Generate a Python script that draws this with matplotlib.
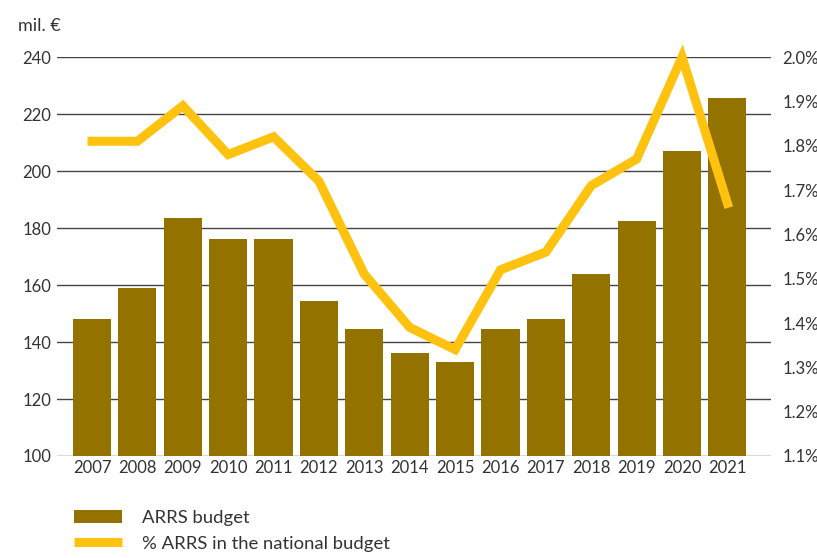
import matplotlib
matplotlib.use("Agg")
import matplotlib.pyplot as plt
from matplotlib.patches import Patch
from matplotlib.lines import Line2D

plt.rcParams['font.family'] = ['Lato', 'DejaVu Sans']

years = ["2007", "2008", "2009", "2010", "2011", "2012", "2013", "2014",
         "2015", "2016", "2017", "2018", "2019", "2020", "2021"]
budget = [148, 159, 183.5, 176, 176, 154.5, 144.5, 136, 133, 144.5, 148, 164, 182.5, 207, 225.5]
share = [1.81, 1.81, 1.89, 1.78, 1.82, 1.72, 1.51, 1.39, 1.34, 1.52, 1.56, 1.71, 1.77, 2.0, 1.67]

left_ticks = [100, 120, 140, 160, 180, 200, 220, 240]
right_ticks = [1.1, 1.2, 1.3, 1.4, 1.5, 1.6, 1.7, 1.8, 1.9, 2.0]

bar_color = "#937200"
line_color = "#FFC20E"
text_color = "#333333"
grid_color = "#444444"

fig = plt.figure(figsize=(8.17, 5.58), dpi=100)
ax = fig.add_axes([0.0698, 0.1828, 0.8739, 0.715])
x = list(range(len(years)))

ax.bar(x, budget, width=0.84, color=bar_color, zorder=3)
ax.set_ylim(100, 240)
ax.set_xlim(-0.77, 14.96)
ax.set_yticks(left_ticks)
ax.set_xticks(x)
ax.set_xticklabels(years)
ax.grid(axis='y', color=grid_color, linewidth=1.0, zorder=0)
ax.set_axisbelow(True)
for s in ax.spines.values():
    s.set_visible(False)
ax.tick_params(axis='both', length=0, labelsize=12, colors=text_color)
ax.tick_params(axis='y', pad=4)
ax.tick_params(axis='x', pad=3)

ax2 = ax.twinx()
ax2.plot(x, share, color=line_color, linewidth=6.5, solid_joinstyle='miter',
         zorder=4, clip_on=False)
ax2.set_ylim(1.1, 2.0)
ax2.set_yticks(right_ticks)
ax2.set_yticklabels([f"{t:.1f}%" for t in right_ticks])
for s in ax2.spines.values():
    s.set_visible(False)
ax2.tick_params(axis='y', length=0, labelsize=12, colors=text_color, pad=8)

fig.text(18 / 817, 1 - 26 / 558, "mil. €", fontsize=13, color=text_color, va='center', ha='left')

handles = [Patch(facecolor=bar_color, edgecolor='none'),
           Line2D([0], [0], color=line_color, linewidth=6.5, solid_capstyle='butt')]
labels = ["ARRS budget", "% ARRS in the national budget"]
fig.legend(handles, labels, loc='upper left', bbox_to_anchor=(74 / 817, 1 - 510 / 558),
           frameon=False, fontsize=13.3, handlelength=2.6, handleheight=0.7,
           handletextpad=1.08, labelspacing=0.52, borderpad=0, borderaxespad=0,
           labelcolor=text_color)

fig.savefig("out.png", dpi=100)
